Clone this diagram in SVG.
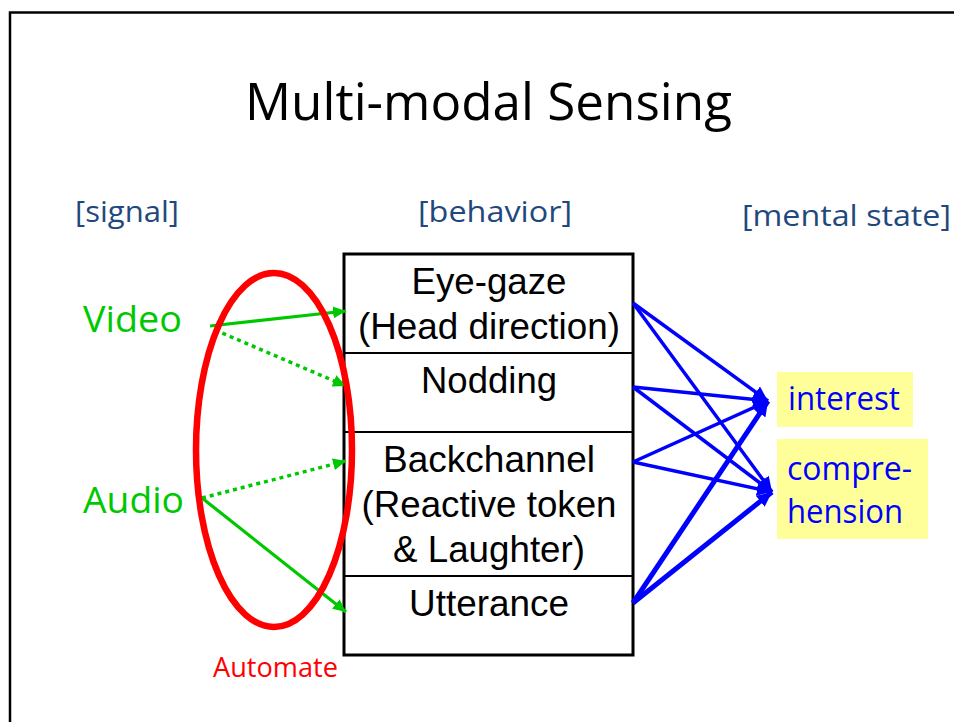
<svg xmlns="http://www.w3.org/2000/svg" width="954" height="722" viewBox="0 0 954 722">
  <style>
    .frame { fill: none; stroke: #000; stroke-width: 2.5; }
    .title { font-family: "Open Sans", "Noto Sans", sans-serif; font-size: 52px; fill: #000; }
    .head { font-family: "Open Sans", "Noto Sans", sans-serif; font-size: 29px; fill: #1F497D; }
    .sig { font-family: "Open Sans", "Noto Sans", sans-serif; font-size: 37px; fill: #00C800; }
    .state { font-family: "Open Sans", "Noto Sans", sans-serif; font-size: 32px; fill: #0000FF; }
    .auto { font-family: "Open Sans", "Noto Sans", sans-serif; font-size: 27px; fill: #FF0000; }
    .cell { fill: #fff; stroke: #000; stroke-width: 3; }
    .div { stroke: #000; stroke-width: 2; }
    .btxt { font-family: "Liberation Sans", Arial, sans-serif; font-size: 36px; fill: #000; text-anchor: middle; }
    .hl { fill: #FFFF99; }
    .g { fill: none; stroke: #00C800; stroke-width: 3.2; marker-end: url(#ag); }
    .gd { stroke-dasharray: 4 4; stroke-width: 3.5; }
    .b { fill: none; stroke: #0000FF; stroke-width: 3.5; marker-end: url(#ab); }
    .bt { stroke-width: 5; }
  </style>
  <defs>
    <marker id="ag" markerUnits="userSpaceOnUse" markerWidth="14" markerHeight="12" refX="13" refY="6" orient="auto">
      <path d="M0,0 L13,6 L0,12 z" fill="#00C800"/>
    </marker>
    <marker id="ab" markerUnits="userSpaceOnUse" markerWidth="16" markerHeight="14" refX="15" refY="7" orient="auto">
      <path d="M0,0 L15,7 L0,14 z" fill="#0000FF"/>
    </marker>
  </defs>

  <rect width="954" height="722" fill="#fff"/>
  <!-- slide frame, open to the right and bottom -->
  <path class="frame" d="M10,722 L10,12.5 L954,12.5"/>

  <text class="title" x="245" y="120" textLength="487" lengthAdjust="spacingAndGlyphs">Multi-modal Sensing</text>

  <!-- column headings -->
  <text class="head" x="75" y="222" textLength="104" lengthAdjust="spacingAndGlyphs">[signal]</text>
  <text class="head" x="418" y="222" textLength="154" lengthAdjust="spacingAndGlyphs">[behavior]</text>
  <text class="head" x="742" y="226" textLength="209" lengthAdjust="spacingAndGlyphs">[mental state]</text>

  <!-- signals -->
  <g id="video">
    <text class="sig" x="83" y="332" textLength="99" lengthAdjust="spacingAndGlyphs">Video</text>
  </g>
  <g id="audio">
    <text class="sig" x="83" y="513" textLength="101" lengthAdjust="spacingAndGlyphs">Audio</text>
  </g>

  <!-- behaviors -->
  <g id="behaviors">
    <rect class="cell" x="344" y="254" width="289" height="401"/>
    <g id="eye-gaze">
      <text class="btxt" x="489" y="294" textLength="155" lengthAdjust="spacingAndGlyphs">Eye-gaze</text>
      <text class="btxt" x="489" y="339" textLength="262" lengthAdjust="spacingAndGlyphs">(Head direction)</text>
    </g>
    <line class="div" x1="344" y1="353" x2="633" y2="353"/>
    <g id="nodding">
      <text class="btxt" x="489" y="393" textLength="136" lengthAdjust="spacingAndGlyphs">Nodding</text>
    </g>
    <line class="div" x1="344" y1="432" x2="633" y2="432"/>
    <g id="backchannel">
      <text class="btxt" x="489" y="472" textLength="212" lengthAdjust="spacingAndGlyphs">Backchannel</text>
      <text class="btxt" x="489" y="517" textLength="255" lengthAdjust="spacingAndGlyphs">(Reactive token</text>
      <text class="btxt" x="489" y="562" textLength="192" lengthAdjust="spacingAndGlyphs">&amp; Laughter)</text>
    </g>
    <line class="div" x1="344" y1="576" x2="633" y2="576"/>
    <g id="utterance">
      <text class="btxt" x="489" y="616" textLength="160" lengthAdjust="spacingAndGlyphs">Utterance</text>
    </g>
  </g>

  <!-- mental states -->
  <g id="interest">
    <rect class="hl" x="777" y="372" width="136" height="55"/>
    <text class="state" x="788" y="410" textLength="112" lengthAdjust="spacingAndGlyphs">interest</text>
  </g>
  <g id="comprehension">
    <rect class="hl" x="777" y="439" width="151" height="100"/>
    <text class="state" x="787" y="480" textLength="125" lengthAdjust="spacingAndGlyphs">compre-</text>
    <text class="state" x="787" y="523" textLength="116" lengthAdjust="spacingAndGlyphs">hension</text>
  </g>

  <!-- connectors -->
  <g id="connectors">
    <path class="g" d="M210,326 L346,311"/>
    <path class="g gd" d="M215,330 L346,386"/>
    <path class="g gd" d="M202,498 L346,461"/>
    <path class="g" d="M202,498 L346,612"/>

    <path class="b" d="M633,303 L768,401"/>
    <path class="b" d="M633,303 L772,492"/>
    <path class="b" d="M633,387 L768,401"/>
    <path class="b" d="M633,387 L772,492"/>
    <path class="b" d="M633,462 L768,401"/>
    <path class="b" d="M633,462 L772,492"/>
    <path class="b bt" d="M633,603 L768,401"/>
    <path class="b bt" d="M633,603 L772,492"/>
  </g>

  <!-- automation scope -->
  <g id="automate">
    <ellipse cx="274" cy="450" rx="78" ry="177" fill="none" stroke="#FF0000" stroke-width="6.5"/>
    <text class="auto" x="213" y="677" textLength="125" lengthAdjust="spacingAndGlyphs">Automate</text>
  </g>
</svg>
